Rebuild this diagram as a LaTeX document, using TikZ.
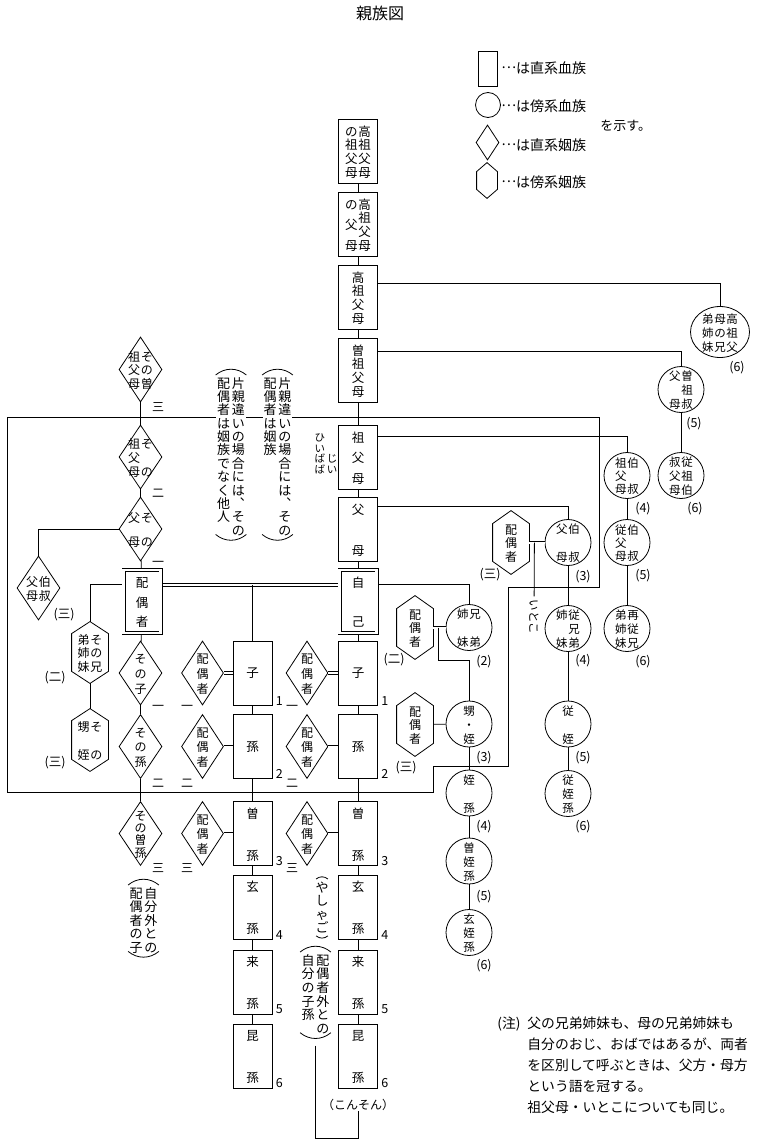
\documentclass[tikz,border=0pt]{standalone}
\usepackage{fontspec}
\setmainfont{Noto Sans CJK JP}
\usetikzlibrary{shapes.geometric, backgrounds}

\makeatletter
% vertical text: one column spread over a fixed height
\newcommand\tcol[2]{\vbox to #1{\offinterlineskip\let\tc@sep\relax
  \@tfor\tc@ch:=#2\do{\tc@sep\hbox to 1.05em{\hss\rule[-.12em]{0pt}{1em}\tc@ch\hss}\let\tc@sep\vfill}}}
% vertical text: one column at a fixed pitch, top aligned
\newcommand\tseq[2][1.05em]{\vtop{\offinterlineskip
  \@tfor\tc@ch:=#2\do{\hbox to 1.15em{\hss\vbox to #1{\vss\hbox{\rule[-.12em]{0pt}{1em}\tc@ch}\vss\kern0pt}\hss}}}}
\makeatother
\newcommand\zb[1]{\makebox[0pt]{\raisebox{-.5\height}[0pt][0pt]{#1}}}
\newcommand\tone[2]{\zb{\tcol{#1}{#2}}}
\newcommand\tate[3]{\zb{\hbox{\tcol{#1}{#3}\tcol{#1}{#2}}}}
\newcommand\middots{\raisebox{.32em}{…}}

\begin{document}
\begin{tikzpicture}[
    x=1pt, y=-1pt, line width=0.8pt,
    box/.style={rectangle, draw, minimum width=39pt, minimum height=64pt, inner sep=0pt, font=\fontsize{12.5}{14}\selectfont},
    dbox/.style={box, double, double distance=2.4pt, minimum width=37pt, minimum height=63pt, outer sep=2pt},
    kin/.style={circle, draw, minimum size=46pt, inner sep=0pt, font=\fontsize{11.5}{13}\selectfont},
    inlaw/.style={diamond, draw, minimum width=42pt, minimum height=64pt, inner sep=0pt, font=\fontsize{12}{13}\selectfont},
    hexa/.style={rectangle, minimum width=36pt, minimum height=63pt, inner sep=0pt, font=\fontsize{12}{13}\selectfont},
    deg/.style={inner sep=0pt, font=\fontsize{12.5}{13}\selectfont},
    kan/.style={inner sep=0pt, font=\fontsize{12}{12}\selectfont},
    remark/.style={inner sep=0pt, fill=white, font=\fontsize{13}{14}\selectfont},
    dline/.style={double, double distance=2pt},
    legend/.style={anchor=west, inner sep=0pt, font=\fontsize{14}{16}\selectfont}
]
    \useasboundingbox (0,0) rectangle (758,1145);

    % Title and legend
    \node[font=\fontsize{16}{18}\selectfont] (title) at (380,13) {親族図};
    \node[rectangle, draw, minimum width=19pt, minimum height=35pt, inner sep=0pt] (lgBox) at (487.5,68.5) {};
    \node[circle, draw, minimum size=25pt, inner sep=0pt] (lgCirc) at (488,105) {};
    \node[diamond, draw, minimum width=23pt, minimum height=35pt, inner sep=0pt] (lgDia) at (487.5,142.5) {};
    \node[hexa, minimum width=20pt, minimum height=35pt] (lgHex) at (487,180.5) {};
    \node[legend] (lgT1) at (501,68) {\middots は直系血族};
    \node[legend] (lgT2) at (501,106) {\middots は傍系血族};
    \node[legend] (lgT3) at (501,145) {\middots は直系姻族};
    \node[legend] (lgT4) at (501,182) {\middots は傍系姻族};
    \node[legend, font=\fontsize{13}{14}\selectfont] (lgShow) at (600,126) {を示す。};

    % Lineal relatives of oneself
    \node[box] (b0) at (358,151) {\tate{52pt}{高祖父母}{の祖父母}};
    \node[box] (b1) at (358,224) {\tate{52pt}{高祖父母}{の父母}};
    \node[box] (b2) at (358,297) {\tone{52pt}{高祖父母}};
    \node[box] (b3) at (358,370) {\tone{52pt}{曽祖父母}};
    \node[box] (b4) at (358,457) {\tone{52pt}{祖父母}};
    \node[box] (b5) at (358,529) {\tone{52pt}{父母}};
    \node[dbox] (self) at (358,601.5) {\tone{50pt}{自己}};
    \node[box] (c1) at (358,673) {子};
    \node[box] (c2) at (358,746.5) {孫};
    \node[box] (c3) at (358,833.5) {\tone{53pt}{曽孫}};
    \node[box] (c4) at (358,907) {\tone{53pt}{玄孫}};
    \node[box] (c5) at (358,982) {\tone{53pt}{来孫}};
    \node[box] (c6) at (358,1056) {\tone{53pt}{昆孫}};

    % Children with the spouse
    \node[box] (kc1) at (252.5,673) {子};
    \node[box] (kc2) at (252.5,746.5) {孫};
    \node[box] (kc3) at (252.5,833.5) {\tone{53pt}{曽孫}};
    \node[box] (kc4) at (252.5,907) {\tone{53pt}{玄孫}};
    \node[box] (kc5) at (252.5,982) {\tone{53pt}{来孫}};
    \node[box] (kc6) at (252.5,1056) {\tone{53pt}{昆孫}};

    % Spouse side
    \node[dbox] (spouse) at (142,601.5) {\tone{50pt}{配偶者}};
    \node[inlaw, minimum width=43pt, minimum height=65pt] (dSoSofubo) at (140.5,369.5) {\tate{38pt}{その曽}{祖父母}};
    \node[inlaw, minimum width=43pt] (dSofubo) at (140.5,457) {\tate{38pt}{その}{祖父母}};
    \node[inlaw, minimum width=43pt] (dFubo) at (140.5,529) {\tate{34pt}{その}{父母}};
    \node[inlaw, minimum width=43pt] (dOji) at (38.5,588) {\tate{24pt}{伯叔}{父母}};
    \node[inlaw, minimum width=43pt] (dKo) at (140.5,673) {\tone{40pt}{その子}};
    \node[inlaw, minimum width=43pt] (dMago) at (140.5,746.5) {\tone{40pt}{その孫}};
    \node[inlaw, minimum width=43pt] (dHimago) at (140.5,833.5) {\tone{47pt}{その曽孫}};
    \node[hexa, minimum height=61pt] (hxSonoKyodai) at (90,652.5) {\tate{37pt}{その兄}{弟姉妹}};
    \node[hexa, minimum height=62pt] (hxSonoOimei) at (90,740) {\tate{38pt}{その}{甥姪}};

    % Spouses of the descendants
    \node[inlaw] (spL1) at (202.5,673) {\tone{40pt}{配偶者}};
    \node[inlaw] (spL2) at (202.5,746.5) {\tone{40pt}{配偶者}};
    \node[inlaw] (spL3) at (202.5,833.5) {\tone{40pt}{配偶者}};
    \node[inlaw] (spR1) at (307,673) {\tone{40pt}{配偶者}};
    \node[inlaw] (spR2) at (307,746.5) {\tone{40pt}{配偶者}};
    \node[inlaw] (spR3) at (307,833.5) {\tone{40pt}{配偶者}};

    % Collateral relatives
    \node[kin, ellipse, minimum width=59pt, minimum height=51pt] (kkyodai) at (720,332) {\zb{\hbox{\tcol{38pt}{弟姉妹}\tcol{38pt}{母の兄}\tcol{38pt}{高祖父}}}};
    \node[kin] (hiOji) at (681,389.5) {\tate{38pt}{曽祖叔}{父母}};
    \node[kin] (juSoOji) at (681,475.5) {\tate{38pt}{従祖伯}{叔父母}};
    \node[kin] (soOji) at (627,475.5) {\tate{36pt}{伯叔}{祖父母}};
    \node[kin] (juOji) at (627,542.5) {\tate{36pt}{伯叔}{従父母}};
    \node[kin] (hatoko) at (627,628.5) {\tate{38pt}{再従兄}{弟姉妹}};
    \node[kin] (oji) at (568,542.5) {\tate{38pt}{伯叔}{父母}};
    \node[kin] (itoko) at (568,628.5) {\tate{38pt}{従兄弟}{姉妹}};
    \node[kin] (juTetsu) at (568,724) {\tone{38pt}{従姪}};
    \node[kin] (juTetsuson) at (568,793.5) {\tone{38pt}{従姪孫}};
    \node[kin] (kyodai) at (469,627.5) {\tate{38pt}{兄弟}{姉妹}};
    \node[kin] (oimei) at (469,724) {\tone{38pt}{甥・姪}};
    \node[kin] (tetsuson) at (469,793) {\tone{38pt}{姪孫}};
    \node[kin] (sotetsu) at (469,861) {\tone{38pt}{曽姪孫}};
    \node[kin] (gentetsu) at (469,932.5) {\tone{38pt}{玄姪孫}};
    \node[hexa] (hxOji) at (511,542.5) {\tone{38pt}{配偶者}};
    \node[hexa] (hxKyodai) at (415,627.5) {\tone{38pt}{配偶者}};
    \node[hexa] (hxOimei) at (415,724.5) {\tone{38pt}{配偶者}};
    \node[deg, rotate=-90, inner sep=3pt, font=\fontsize{11.5}{12}\selectfont] (itokoLbl) at (534,617) {いとこ};

    % Degrees
    \node[deg, anchor=north] (kkyodaiD) at ([xshift=17pt,yshift=-3pt]kkyodai.south) {(6)};
    \node[deg, anchor=north] (hiOjiD) at ([xshift=13pt,yshift=-4pt]hiOji.south) {(5)};
    \node[deg, anchor=north] (juSoOjiD) at ([xshift=14pt,yshift=-3pt]juSoOji.south) {(6)};
    \node[deg, anchor=north] (soOjiD) at ([xshift=16pt,yshift=-3pt]soOji.south) {(4)};
    \node[deg, anchor=north] (juOjiD) at ([xshift=16pt,yshift=-3pt]juOji.south) {(5)};
    \node[deg, anchor=north] (hatokoD) at ([xshift=16pt,yshift=-3pt]hatoko.south) {(6)};
    \node[deg, anchor=north] (ojiD) at ([xshift=15pt,yshift=-4pt]oji.south) {(3)};
    \node[deg, anchor=north] (itokoD) at ([xshift=15pt,yshift=-2pt]itoko.south) {(4)};
    \node[deg, anchor=north] (juTetsuD) at ([xshift=15pt,yshift=-3pt]juTetsu.south) {(5)};
    \node[deg, anchor=north] (juTetsusonD) at ([xshift=15pt,yshift=-3pt]juTetsuson.south) {(6)};
    \node[deg, anchor=north] (kyodaiD) at ([xshift=15pt,yshift=-4pt]kyodai.south) {(2)};
    \node[deg, anchor=north] (oimeiD) at ([xshift=15pt,yshift=-3pt]oimei.south) {(3)};
    \node[deg, anchor=north] (tetsusonD) at ([xshift=15pt,yshift=-3pt]tetsuson.south) {(4)};
    \node[deg, anchor=north] (sotetsuD) at ([xshift=15pt,yshift=-5pt]sotetsu.south) {(5)};
    \node[deg, anchor=north] (gentetsuD) at ([xshift=15pt,yshift=-3pt]gentetsu.south) {(6)};
    \node[deg] (hxOjiD) at (490,575) {(三)};
    \node[deg] (hxKyodaiD) at (394,660) {(二)};
    \node[deg] (hxOimeiD) at (406,768) {(三)};
    \node[deg] (dOjiD) at (64,615) {(三)};
    \node[deg] (hxSonoKyodaiD) at (55,678) {(二)};
    \node[deg] (hxSonoOimeiD) at (55,763) {(三)};
    \node[kan] (lvA3) at (158,407) {三};
    \node[kan] (lvA2) at (158,493) {二};
    \node[kan] (lvA1) at (158,564) {一};
    \node[kan] (lvK1) at (158,708) {一};
    \node[kan] (lvK2) at (158,783) {二};
    \node[kan] (lvK3) at (158,868) {三};
    \node[kan] (lvL1) at (187,708) {一};
    \node[kan] (lvL2) at (187,783) {二};
    \node[kan] (lvL3) at (187,868) {三};
    \node[kan] (lvR1) at (292,708) {一};
    \node[kan] (lvR2) at (292,783) {二};
    \node[kan] (lvR3) at (292,868) {三};
    \node[deg, anchor=south west] (nk1) at ([xshift=3pt]kc1.south east) {1};
    \node[deg, anchor=south west] (nk2) at ([xshift=3pt]kc2.south east) {2};
    \node[deg, anchor=south west] (nk3) at ([xshift=3pt]kc3.south east) {3};
    \node[deg, anchor=south west] (nk4) at ([xshift=3pt]kc4.south east) {4};
    \node[deg, anchor=south west] (nk5) at ([xshift=3pt]kc5.south east) {5};
    \node[deg, anchor=south west] (nk6) at ([xshift=3pt]kc6.south east) {6};
    \node[deg, anchor=south west] (nc1) at ([xshift=3pt]c1.south east) {1};
    \node[deg, anchor=south west] (nc2) at ([xshift=3pt]c2.south east) {2};
    \node[deg, anchor=south west] (nc3) at ([xshift=3pt]c3.south east) {3};
    \node[deg, anchor=south west] (nc4) at ([xshift=3pt]c4.south east) {4};
    \node[deg, anchor=south west] (nc5) at ([xshift=3pt]c5.south east) {5};
    \node[deg, anchor=south west] (nc6) at ([xshift=3pt]c6.south east) {6};

    % Remarks
    \node[remark, anchor=north] (noteA) at (231,376) {\hbox{\tseq[1.03em]{配偶者は姻族でなく他人}\tseq[1.03em]{片親違いの場合には︑その}}};
    \node[remark, anchor=north] (noteB) at (277.5,376) {\hbox{\tseq[1.03em]{配偶者は姻族}\tseq[1.03em]{片親違いの場合には︑その}}};
    \node[font=\fontsize{10.5}{11}\selectfont, anchor=north, inner sep=0pt] (hiiLbl) at (326,432) {\hbox{\tseq[1em]{ひいばば}\tseq[1em]{　　じい}}};
    \node[remark, anchor=north] (noteC) at (143.5,886) {\hbox{\tseq[1.04em]{配偶者の子}\tseq[1.04em]{自分外との}}};
    \node[remark, anchor=north] (noteD) at (322,880) {\tseq[1.04em]{やしゃご}};
    \node[remark, anchor=north] (noteE) at (315.5,953) {\hbox{\tseq[1.05em]{自分の子孫}\tseq[1.05em]{配偶者外との}}};
    \node[font=\fontsize{12}{13}\selectfont, inner sep=0pt] (konsonLbl) at (358,1105) {（こんそん）};
    \node[anchor=north west, inner sep=0pt, align=left, font=\fontsize{13.8}{21.2}\selectfont] (noteBody) at (527,1016) {父の兄弟姉妹も、母の兄弟姉妹も\\自分のおじ、おばではあるが、両者\\を区別して呼ぶときは、父方・母方\\という語を冠する。\\祖父母・いとこについても同じ。};
    \node[anchor=north east, inner sep=0pt, font=\fontsize{13.8}{21.2}\selectfont] (noteMark) at (521,1016) {(注)};
    \foreach \n in {noteA, noteB, noteC, noteE} {
        \draw ([yshift=1pt]\n.north west) to[bend left=40] ([yshift=1pt]\n.north east);
        \draw ([yshift=3pt]\n.south west) to[bend right=40] ([yshift=3pt]\n.south east);
    }
    \draw ([xshift=2pt,yshift=1pt]noteD.north west) to[bend left=40] ([xshift=-2pt,yshift=1pt]noteD.north east);
    \draw ([xshift=2pt,yshift=-1pt]noteD.south west) to[bend right=40] ([xshift=-2pt,yshift=-1pt]noteD.south east);

    % Hexagons
    \foreach \h/\s in {hxOji/13pt, hxKyodai/13pt, hxOimei/13pt, hxSonoKyodai/12pt, hxSonoOimei/12pt, lgHex/9pt}
        \draw (\h.north) -- ([yshift=-\s]\h.north east) -- ([yshift=\s]\h.south east) -- (\h.south)
            -- ([yshift=\s]\h.south west) -- ([yshift=-\s]\h.north west) -- cycle;

    % Connectors
    \draw (b0) -- (b1);
    \draw (b1) -- (b2);
    \draw (b2) -- (b3);
    \draw (b3) -- (b4);
    \draw (b4) -- (b5);
    \draw (b5) -- (self);
    \draw (self) -- (c1);
    \draw (c1) -- (c2);
    \draw (c2) -- (c3);
    \draw (c3) -- (c4);
    \draw (c4) -- (c5);
    \draw (c5) -- (c6);
    \draw (kc1) -- (kc2);
    \draw (kc2) -- (kc3);
    \draw (kc3) -- (kc4);
    \draw (kc4) -- (kc5);
    \draw (kc5) -- (kc6);
    \draw (dSoSofubo) -- (dSofubo);
    \draw (dSofubo) -- (dFubo);
    \draw (dFubo) -- (spouse);
    \draw (spouse) -- (dKo);
    \draw (dKo) -- (dMago);
    \draw (dMago) -- (dHimago);
    \draw (dFubo.west) -| (dOji.north);
    \draw ([yshift=-16pt]spouse.north west) -| (hxSonoKyodai.north);
    \draw (hxSonoKyodai) -- (hxSonoOimei);
    \draw[dline] ([yshift=-17pt]spouse.north east) -- coordinate (wed) ([yshift=-17pt]self.north west);
    \draw (kc1.north) -- (kc1.north |- wed);
    \draw[dline] (spL1) -- (kc1);
    \draw[dline] (spL2) -- (kc2);
    \draw[dline] (spL3) -- (kc3);
    \draw[dline] (spR1) -- (c1);
    \draw[dline] (spR2) -- (c2);
    \draw[dline] (spR3) -- (c3);
    \draw ([yshift=-19pt]b2.north east) -| (kkyodai.north);
    \draw ([yshift=-14pt]b3.north east) -| (hiOji.north);
    \draw ([yshift=-12pt]b4.north east) -| (soOji.north);
    \draw ([yshift=-10pt]b5.north east) -| (oji.north);
    \draw ([yshift=-16pt]self.north east) -| (kyodai.north);
    \draw (hiOji) -- (juSoOji);
    \draw (soOji) -- (juOji);
    \draw (juOji) -- (hatoko);
    \draw (oji) -- (itoko);
    \draw (itoko) -- (juTetsu);
    \draw (juTetsu) -- (juTetsuson);
    \draw[dline] (hxOji) -- (oji);
    \draw ([xshift=5pt]hxOji.east) -- (itokoLbl);
    \draw[dline] (hxKyodai) -- (kyodai);
    \draw ([xshift=5pt]hxKyodai.east) -- ++(0,33) -| (oimei.north);
    \draw (hxOimei) -- (oimei);
    \draw (oimei) -- (tetsuson);
    \draw (tetsuson) -- (sotetsu);
    \draw (sotetsu) -- (gentetsu);
    \draw ([yshift=-10pt]noteE.south) -- ++(0,93) -| (konsonLbl.south);

    % Grouping - in-law boundary
    \begin{scope}[on background layer]
        \draw (7,417) -- (599,417) -- (599,587) -- (508,587) -- (508,766) -- (433,766) -- (433,792) -- (7,792) -- cycle;
    \end{scope}

\end{tikzpicture}
\end{document}
